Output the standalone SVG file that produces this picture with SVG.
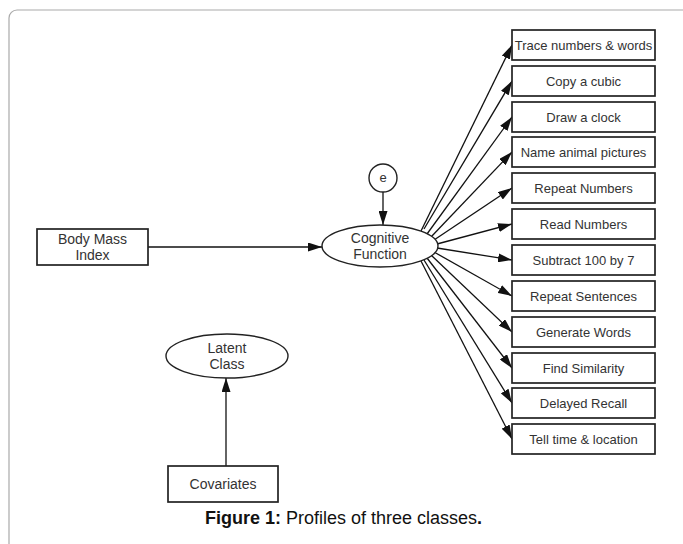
<svg xmlns="http://www.w3.org/2000/svg" width="683" height="544" viewBox="0 0 683 544">
<defs>
<marker id="ah" viewBox="0 0 14 9" refX="14" refY="4.5" markerWidth="14" markerHeight="9" markerUnits="userSpaceOnUse" orient="auto">
<path d="M0,0 L14,4.5 L0,9 Z" fill="#111"/>
</marker>
</defs>
<style>
.box{fill:#fff;stroke:#222;stroke-width:1.7}
.ell{fill:#fff;stroke:#222;stroke-width:1.4}
.t{font-family:"Liberation Sans",Arial,sans-serif;font-size:13px;fill:#333;text-anchor:middle}
.t14{font-family:"Liberation Sans",Arial,sans-serif;font-size:14px;fill:#333;text-anchor:middle}
.c{stroke:#111;stroke-width:1.3;fill:none;marker-end:url(#ah)}
.cap{font-family:"Liberation Sans",Arial,sans-serif;font-size:18px;fill:#111}
</style>
<rect width="683" height="544" fill="#fff"/>
<rect x="9" y="10" width="700" height="560" rx="8" fill="none" stroke="#aaa" stroke-width="1.2"/>

<g id="connectors">
<line class="c" x1="148" y1="247" x2="322" y2="247"/>
<line class="c" x1="383" y1="192" x2="383" y2="225"/>
<line class="c" x1="226" y1="466" x2="226" y2="378"/>
<line class="c" x1="421" y1="231" x2="512" y2="45"/>
<line class="c" x1="424" y1="229" x2="512" y2="81"/>
<line class="c" x1="427" y1="234" x2="512" y2="117"/>
<line class="c" x1="431" y1="237" x2="512" y2="152"/>
<line class="c" x1="434" y1="240" x2="512" y2="188"/>
<line class="c" x1="437" y1="244" x2="512" y2="224"/>
<line class="c" x1="437" y1="248" x2="512" y2="260"/>
<line class="c" x1="434" y1="252" x2="512" y2="296"/>
<line class="c" x1="431" y1="255" x2="512" y2="332"/>
<line class="c" x1="427" y1="258" x2="512" y2="368"/>
<line class="c" x1="424" y1="260" x2="512" y2="403"/>
<line class="c" x1="421" y1="261" x2="512" y2="439"/>
</g>

<g id="bmi"><rect class="box" x="37" y="229" width="111" height="36"/><text class="t14" x="92.5" y="244">Body Mass</text><text class="t14" x="92.5" y="260">Index</text></g>
<g id="e"><circle class="ell" cx="383" cy="178" r="14"/><text class="t" x="383" y="182">e</text></g>
<g id="cog"><ellipse class="ell" cx="380" cy="246" rx="58" ry="21"/><text class="t14" x="380" y="243">Cognitive</text><text class="t14" x="380" y="259">Function</text></g>
<g id="latent"><ellipse class="ell" cx="227" cy="356" rx="61" ry="22"/><text class="t14" x="227" y="353">Latent</text><text class="t14" x="227" y="369">Class</text></g>
<g id="cov"><rect class="box" x="168" y="466" width="110" height="36"/><text class="t14" x="223" y="489" font-size="15px">Covariates</text></g>

<g id="m1"><rect class="box" x="512" y="30" width="143" height="30"/><text class="t" x="583.5" y="50">Trace numbers &amp; words</text></g>
<g id="m2"><rect class="box" x="512" y="66" width="143" height="30"/><text class="t" x="583.5" y="86">Copy a cubic</text></g>
<g id="m3"><rect class="box" x="512" y="102" width="143" height="30"/><text class="t" x="583.5" y="122">Draw a clock</text></g>
<g id="m4"><rect class="box" x="512" y="137" width="143" height="30"/><text class="t" x="583.5" y="157">Name animal pictures</text></g>
<g id="m5"><rect class="box" x="512" y="173" width="143" height="30"/><text class="t" x="583.5" y="193">Repeat Numbers</text></g>
<g id="m6"><rect class="box" x="512" y="209" width="143" height="30"/><text class="t" x="583.5" y="229">Read Numbers</text></g>
<g id="m7"><rect class="box" x="512" y="245" width="143" height="30"/><text class="t" x="583.5" y="265">Subtract 100 by 7</text></g>
<g id="m8"><rect class="box" x="512" y="281" width="143" height="30"/><text class="t" x="583.5" y="301">Repeat Sentences</text></g>
<g id="m9"><rect class="box" x="512" y="317" width="143" height="30"/><text class="t" x="583.5" y="337">Generate Words</text></g>
<g id="m10"><rect class="box" x="512" y="353" width="143" height="30"/><text class="t" x="583.5" y="373">Find Similarity</text></g>
<g id="m11"><rect class="box" x="512" y="388" width="143" height="30"/><text class="t" x="583.5" y="408">Delayed Recall</text></g>
<g id="m12"><rect class="box" x="512" y="424" width="143" height="30"/><text class="t" x="583.5" y="444">Tell time &amp; location</text></g>

<text class="cap" x="205" y="524"><tspan font-weight="bold">Figure 1:</tspan> Profiles of three classes<tspan font-weight="bold">.</tspan></text>
</svg>
